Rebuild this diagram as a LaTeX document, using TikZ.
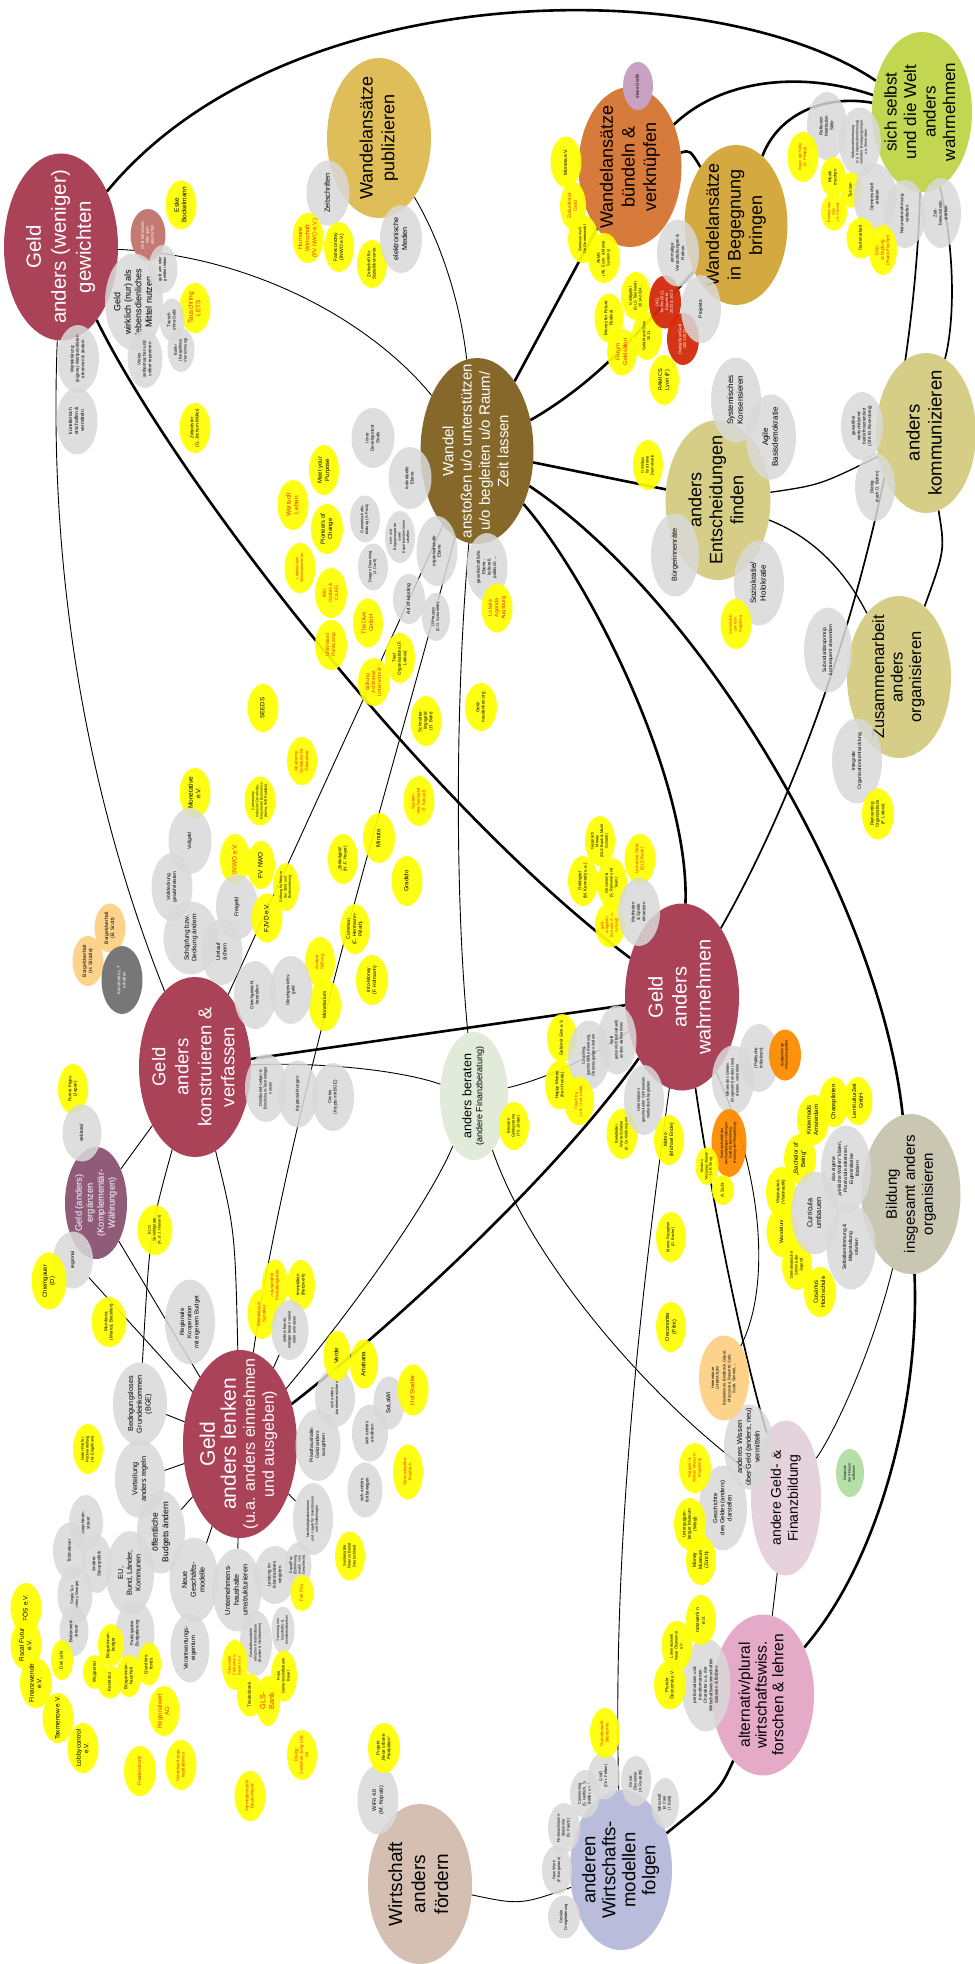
\documentclass[tikz,border=0pt]{standalone}
\usepackage{fontspec}
\setmainfont{Liberation Sans}
\usetikzlibrary{shapes.geometric}
\pgfdeclarelayer{bgzero}\pgfdeclarelayer{background}
\pgfsetlayers{bgzero,background,main}
\definecolor{mar}{HTML}{AA4258}
\definecolor{wan}{HTML}{86692A}
\definecolor{pubc}{HTML}{DFBE5A}
\definecolor{bunc}{HTML}{D67B3C}
\definecolor{begc}{HTML}{D4A940}
\definecolor{sichc}{HTML}{C2D652}
\definecolor{kha}{HTML}{D6CE86}
\definecolor{bilc}{HTML}{C9C7B2}
\definecolor{finc}{HTML}{E6D2DD}
\definecolor{altc}{HTML}{E4AAC8}
\definecolor{wmodc}{HTML}{B9BDDB}
\definecolor{wfoec}{HTML}{D4BFB2}
\definecolor{berc}{HTML}{E2EBDA}
\definecolor{ergc}{HTML}{8F5B79}
\definecolor{redu}{HTML}{C27A73}
\definecolor{graf}{HTML}{C9A1C3}
\definecolor{grc}{HTML}{D9D9D9}
\definecolor{yel}{HTML}{FFFF00}
\definecolor{redt}{HTML}{F2330D}
\definecolor{orc}{HTML}{FF8C00}
\definecolor{lor}{HTML}{FDCF80}
\definecolor{dgr}{HTML}{777777}
\definecolor{redc}{HTML}{D42A0A}
\definecolor{lgr}{HTML}{B4E0A8}
\newcommand\T[1]{\makebox[0pt]{\raisebox{-0.25em}[0pt][0pt]{\begin{tabular}[c]{@{}c@{}}#1\end{tabular}}}}
\newcommand\N[6]{\node[#1,minimum width=#5pt,minimum height=#4pt] (#2) at (#3) {\T{#6}};}
\tikzset{
 F/.style 2 args={font=\fontsize{#1}{#2}\selectfont},
 base/.style={ellipse, rotate=90, inner sep=0pt, outer sep=0pt},
 mn/.style={base, fill=#1},
 gr/.style={base, fill=grc, fill opacity=.85, text opacity=1},
 ye/.style={base, fill=yel, fill opacity=.92, text opacity=1},
 yr/.style={ye, text=redt},
 lo/.style={base, fill=lor, fill opacity=.9, text opacity=1},
 og/.style={base, fill=orc, fill opacity=.95, text opacity=1},
 rd/.style={base, fill=redc, text=white, fill opacity=.95, text opacity=1},
 fa/.style={F={3.6}{4.3}}, fb/.style={F={4}{4.8}}, fc/.style={F={4.5}{5.4}},
 fd/.style={F={5}{6}}, fe/.style={F={5.5}{6.6}}, ff/.style={F={6}{7.2}},
 fg/.style={F={6.5}{7.6}}, fh/.style={F={7.3}{8.7}}, fi/.style={F={8}{9.8}},
 tk/.style={line width=2.6pt}, md/.style={line width=1.7pt},
 tn/.style={line width=0.9pt}, gl/.style={line width=1.3pt, black!60},
}
\begin{document}
\begin{tikzpicture}[x=1pt,y=-1pt]
\useasboundingbox (0,0) rectangle (974,1964);
\begin{pgfonlayer}{bgzero}\fill[white] (0,0) rectangle (974,1964);\end{pgfonlayer}
% ---------- main nodes
\N{mn=mar,text=white,F={20.5}{25}}{gew}{61,247}{114}{187}{Geld\\anders (weniger)\\gewichten}
\N{mn=wan,text=white,F={15}{18.3}}{wandel}{477,451}{113}{186}{Wandel\\anstoßen u/o unterstützen\\u/o begleiten u/o Raum/\\Zeit lassen}
\N{mn=pubc,F={18}{21.7}}{pub}{379,138}{104}{160}{Wandelansätze\\publizieren}
\N{mn=bunc,F={18}{21.7}}{bund}{630,167}{103}{160}{Wandelansätze\\bündeln \&\\verknüpfen}
\N{mn=begc,F={18}{21.7}}{beg}{736,225}{103}{160}{Wandelansätze\\in Begegnung\\bringen}
\N{mn=sichc,F={17}{19.5}}{sich}{922,112}{100}{160}{sich selbst\\und die Welt\\anders\\wahrnehmen}
\N{mn=kha,F={18.5}{22}}{kom}{926,433}{100}{160}{anders\\kommunizieren}
\N{mn=kha,F={18}{21}}{ent}{718,500}{105}{160}{anders\\Entscheidungen\\finden}
\N{mn=kha,F={16.5}{18.5}}{zus}{899,677}{104}{162}{Zusammenarbeit\\anders\\organisieren}
\N{mn=mar,text=white,F={20}{24}}{wahr}{682,997}{114}{187}{Geld\\anders\\wahrnehmen}
\N{mn=mar,text=white,F={18.5}{23}}{kon}{195,1067}{112}{180}{Geld\\anders\\konstruieren \&\\verfassen}
\N{mn=mar,text=white,F={16}{19}}{lenk}{240,1444}{114}{188}{{\fontsize{21}{22}\selectfont Geld}\\{\fontsize{21}{22}\selectfont anders lenken}\\(u.a. anders einnehmen\\und ausgeben)}
\N{mn=berc,F={9}{11}}{ber}{474,1096}{68}{128}{{\fontsize{12.5}{15}\selectfont anders beraten}\\(andere Finanzberatung)}
\N{mn=ergc,text=white,F={9.3}{11}}{erg}{96,1203}{62}{112}{Geld (anders)\\ergänzen\\(Komplementär-\\Währungen)}
\N{mn=bilc,F={15}{18}}{bil}{911,1194}{99}{160}{Bildung\\insgesamt anders\\organisieren}
\N{mn=finc,F={14}{17}}{fin}{786,1498}{70}{155}{andere Geld- \&\\Finanzbildung}
\N{mn=altc,F={15.5}{16.7}}{alt}{763,1695}{102}{161}{alternativ/plural\\wirtschaftswiss.\\forschen \& lehren}
\N{mn=wmodc,F={18.5}{20}}{wmod}{621,1870}{102}{160}{anderen\\Wirtschafts-\\modellen\\folgen}
\N{mn=wfoec,F={19}{23}}{wfoe}{420,1884}{104}{160}{Wirtschaft\\anders\\fördern}
% ---------- top left
\N{mn=redu,text=white,fb}{redu}{148,235}{35}{52}{Geld reduzieren\\oder ganz\\abschaffen}
\N{ye,fg}{eske}{181,205}{31}{49}{Eske\\Bockelmann}
\N{gr,F={9}{10.5}}{wirk}{134,302}{58}{97}{Geld\\wirklich (nur) als\\lebensdienliches\\Mittel nutzen}
\N{gr,fb}{garm}{163,269}{29}{48}{geld arm oder\\geldfrei leben}
\N{yr,fg}{lets}{195,308}{31}{50}{Tauschring\\LETS}
\N{gr,fc}{tausch}{172,320}{25}{43}{Tausch\\ohne Geld}
\N{gr,fb}{barter}{181,350}{27}{44}{Barter\\(bargeldlose\\Verrechnung)}
\N{gr,fc}{viel}{145,359}{35}{58}{Vieles\\selbermachen und\\selber reparieren}
\N{gr,fc}{werte}{78,359}{42}{68}{Werteklärung:\\(eigene) Wertprioritäten\\erkennen \& ändern}
\N{gr,fd}{kuen}{77,421}{41}{67}{künstlerisch\\erschaffen \&\\vermitteln}
\N{ye,fc}{zeitp}{195,428}{31}{50}{Zeitpolster\\(G. Jochum-Müller)}
\N{gr,fh}{zeitschr}{328,193}{43}{65}{Zeitschriften}
\N{yr,ff}{humane}{308,238}{31}{50}{Humane\\Wirtschaft\\(FV NWO e.V.)}
\N{ye,fd}{faire}{339,247}{30}{50}{Faireconomy\\(INWO e.V.)}
\N{ye,fc}{zfs}{372,264}{30}{48}{Zeitschrift für\\Sozialökonomie}
\N{gr,fh}{elek}{401,239}{42}{68}{elektronische\\Medien}
% ---------- top middle
\N{mn=graf,fc}{grafik}{638,86}{30}{48}{diese Grafik}
\N{ye,fd}{moneta}{566,162}{31}{51}{Moneta e.V.}
\N{yr,fd}{zrat}{573,206}{26}{48}{Zukunftsrat\\Geld}
\N{ye,fb}{gen}{583,239}{30}{48}{Genossensch.\\für Gemeinwohl}
\N{ye,fb}{aems}{604,258}{32}{50}{AEMS\\(Alt. Econ. \& Monet.\\Systems)}
\N{ye,fc}{mff}{609,318}{29}{49}{Money for Future\\Festival}
\N{ye,fb}{gipfel}{636,296}{30}{48}{Geldgipfel\\(GLS Treuhand)\\2014-2024...}
\N{yr,ff}{salon}{622,352}{30}{47}{Forum\\Geldsalon}
\N{ye,fb}{gms}{647,336}{30}{48}{Geld.Macht.Sinn\\2011}
\N{rd,fb}{dfg}{665,302}{32}{53}{DFG:\\Treffen 2021,\\Konvente\\2022 \& 2023}
\N{rd,fb}{drg}{683,339}{32}{52}{DialogRaumGeld\\2021-2023}
\N{ye,fe}{ramics}{664,380}{30}{50}{RAMICS\\Lyon (F)}
\N{ye,fb}{omni}{648,465}{30}{50}{Omnibus\\für direkte\\Demokratie}
\N{gr,fc}{einm}{678,253}{42}{67}{einmalige\\Veranstaltungen \&\\Reihen}
\N{gr,fd}{proj}{701,309}{40}{68}{Projekte}
\N{gr,fc}{idg}{373,438}{43}{60}{Inner\\Development\\Goals}
\N{gr,fc}{indiv}{410,478}{43}{62}{individuelle\\Ebene}
% ---------- top right
\N{gr,fc}{refl}{827,126}{40}{68}{Reflexion\\Meditation\\Stille}
\N{gr,fa}{selbstw}{860,142}{42}{69}{Selbstwahrnehmung\\(v.a. Körperwahrnehmung)\\vertiefen: Bewegungsimpro.\\u.a. Sinne üben}
\N{yr,fb}{raum}{803,157}{31}{50}{Raum der Stille\\(A. Philipp)}
\N{ye,fc}{musik}{833,177}{25}{40}{Musik\\machen}
\N{ye,fc}{tanz}{851,190}{21}{36}{Tanzen}
\N{yr,fa}{beweg}{834,212}{26}{37}{Bewegungs-\\tage\\(A. Hähnel)}
\N{gr,fc}{gemein}{875,197}{43}{67}{Gemeinschaft\\erleben}
\N{ye,fc}{garten}{861,238}{29}{41}{Gartenarbeit}
\N{gr,fc}{natur}{905,214}{42}{68}{Naturwahrnehmung\\vertiefen}
\N{gr,fc}{zeitb}{941,213}{40}{70}{Zeit-\\bewusstsein\\stärken}
\N{yr,fc}{erd}{883,250}{28}{50}{ERD-\\schöpfung\\(Frank Fischer)}
% ---------- right middle
\N{gr,fi}{sysk}{736,400}{50}{85}{Systemisches\\Konsensieren}
\N{gr,fi}{agile}{771,437}{50}{85}{Agile\\Basisdemokratie}
\N{gr,fc}{gfk}{862,426}{42}{68}{gewaltfrei\\wertschätzend\\bedürfnisorientiert\\(GfK M. Rosenberg)}
\N{gr,fc}{dialog}{875,487}{40}{68}{Dialog\\(nach D. Bohm)}
\N{gr,fh}{buerg}{675,555}{48}{83}{Bürgerinnenräte}
\N{gr,fi}{sozio}{759,583}{50}{85}{Soziokratie/\\Holokratie}
\N{yr,fb}{szaug}{736,624}{31}{50}{Soziokratie-\\zentrum\\Augsburg}
\N{gr,fd}{subs}{828,650}{48}{85}{Subsidiaritätsprinzip\\konsequent anwenden}
\N{gr,fd}{integ}{857,761}{50}{85}{Integrale\\Organisationsentwicklung}
\N{ye,fc}{reinv}{878,814}{32}{51}{Reinventing\\Organizations\\(F. Laloux)}
% ---------- middle
\N{yr,fg}{wertv}{293,505}{31}{50}{Wertvoll\\Leben}
\N{ye,ff}{meet}{324,470}{30}{50}{Meet your\\Purpose}
\N{ye,ff}{pion}{327,529}{32}{50}{Pioneers of\\Change}
\N{yr,fb}{lebr}{300,568}{31}{50}{Lebensraum\\Schwabencenter}
\N{yr,fd}{imu}{331,593}{32}{50}{IMU\\GmbH \&\\Co.KG}
\N{yr,fd}{unitv}{331,645}{32}{50}{UnitVision/\\Thinkcamp}
\N{gr,fb}{peck}{365,519}{30}{47}{Gemeinschafts-\\bildung (S. Peck)}
\N{gr,fa}{lern}{400,537}{30}{52}{Lern- und\\Begegnungsorte\\sowie\\Experimentierräume\\schaffen}
\N{gr,fb}{dragon}{373,567}{30}{47}{Dragon Dreaming\\(J. Croft)}
\N{gr,fc}{orgeb}{437,551}{41}{70}{organisationale\\Ebene}
\N{gr,fd}{aoh}{409,599}{32}{50}{Art of Hosting}
\N{gr,fb}{uproz}{436,617}{28}{48}{U-Prozess\\(C.O. Scharmer)}
\N{gr,fc}{gesell}{487,567}{41}{68}{gesellschaftliche\\Ebene -\\kulturell,\\politisch, ...}
\N{yr,fe}{lokal}{497,608}{31}{49}{Lokale\\Agenda\\Augsburg}
\N{ye,fc}{teal}{400,658}{30}{50}{Teal\\Organisations (F.\\Laloux)}
\N{yr,ff}{dive}{368,623}{30}{49}{TheDive\\GmbH}
\N{yr,fd}{achts}{374,682}{32}{48}{Stiftung\\Achtsame\\Unternehmer}
\N{ye,fc}{neud}{481,707}{32}{48}{Geld-\\neudenken.org}
\N{ye,fc}{schmett}{426,721}{31}{50}{Schmetter-\\lingsgeld\\(D. Bahr)}
\N{yr,fc}{syswe}{419,801}{31}{50}{System-\\wechselspiel\\(T. Kanyal)}
\N{ye,ff}{minuto}{379,838}{32}{50}{Minuto}
\N{ye,fc}{zeitt}{343,859}{30}{50}{„Zeitteilgeld“\\(H.-F. Hoyer)}
\N{ye,ff}{gradido}{407,881}{31}{50}{Gradido}
\N{ye,fd}{common}{355,929}{30}{50}{Common\\(C. Herrmann-\\Pillath)}
\N{ye,fd}{infom}{372,980}{32}{50}{Info-Money\\(F. Hofmann)}
\N{ye,fd}{monetar}{325,1005}{32}{52}{Monetarium}
\N{yr,fc}{andst}{320,962}{30}{50}{Andere\\Stiftung}
\N{ye,ff}{seeds}{263,708}{31}{48}{SEEDS}
\N{yr,fc}{akad}{302,761}{30}{48}{Akademie\\Solidarische\\Ökonomie}
\N{ye,fg}{monetat}{195,793}{31}{50}{Monetative\\e.V.}
\N{ye,fa}{cic}{260,801}{31}{49}{Community\\Inclusion Currencies,\\Grassroots Economics\\(Kenia, Will Ruddick)}
\N{gr,fd}{vollg}{190,841}{43}{66}{Vollgeld}
\N{gr,fd}{volld}{172,887}{41}{68}{Volldeckung\\gewährleisten}
\N{yr,fg}{inwo}{235,859}{30}{50}{INWO e.V.}
\N{ye,fg}{fvnwo}{261,865}{28}{48}{FV NWO}
\N{ye,fa}{stift}{286,887}{26}{48}{Stiftung für Reform\\der Geld- und\\Bodenordnung}
\N{gr,fe}{freig}{237,907}{42}{65}{Freigeld}
\N{ye,fg}{fjvd}{267,918}{31}{49}{FJVD e.V.}
\N{gr,fg}{schoepf}{191,938}{55}{73}{Schöpfung bzw.\\Deckung ändern}
\N{gr,fe}{umlauf}{222,952}{41}{66}{Umlauf\\sichern}
\N{lo,fd}{bargs}{88,961}{31}{50}{Bargeldverhalt\\(H. Stützle)}
\N{lo,fd}{bargsc}{110,928}{31}{49}{Bargeldverhalt\\(B. Scott)}
\N{mn=dgr,text=white,fc}{konstr}{122,980}{41}{68}{Konstrukte z.T.\\erhalten}
\N{gr,fc}{gleich}{255,995}{42}{68}{Gleichgewicht\\herstellen}
\N{gr,fc}{gleichg}{291,990}{42}{68}{Gleichgewichts-\\geld}
\N{gr,fb}{dlt}{266,1088}{42}{68}{Distributed-Ledger \&\\Blockchain-Technologie\\nutzen}
\N{gr,fc}{krypto}{298,1094}{40}{67}{Kryptowährungen}
\N{gr,fc}{circles}{333,1097}{42}{68}{Circles\\(Krypto mit BGE)}
% ---------- left middle
\N{ye,fc}{fureai}{73,1089}{30}{50}{Fureai Kippu\\(Japan)}
\N{gr,fd}{sekt}{82,1133}{39}{57}{sektoral}
\N{gr,fd}{regio}{73,1260}{40}{57}{regional}
\N{ye,ff}{chiem}{49,1281}{35}{57}{Chiemgauer\\(D)}
\N{ye,fc}{mumb}{109,1322}{35}{50}{Mumbuca\\(Maricá, Brasilien)}
\N{ye,fb}{eco}{155,1230}{35}{50}{ECO\\Sovereignate\\(A. \& J. Hansen)}
\N{gr,ff}{regk}{190,1322}{50}{85}{Regionale\\Kooperation\\mit eigenem Budget}
\N{yr,fc}{haus}{275,1285}{26}{51}{Hausprojekt\\Paradiesgarten}
\N{yr,fc}{miets}{262,1314}{29}{50}{Mietshäuser\\Syndikat}
\N{ye,fc}{immo}{301,1285}{28}{50}{Immobilien\\(Netzwerk)}
\N{gr,fb}{bauen}{290,1330}{37}{60}{anders bauen,\\weniger bauen sowie\\mehr umnutzen}
\N{gr,fh}{bge}{140,1404}{54}{83}{Bedingungsloses\\Grundeinkommen\\(BGE)}
\N{ye,fb}{guter}{88,1449}{30}{50}{Guter Rat für\\Rückverteilung\\(M. Engelhorn)}
\N{gr,fh}{vert}{140,1479}{50}{78}{Verteilung\\anders regeln}
\N{gr,F={8.5}{10.5}}{oeff}{161,1532}{48}{83}{öffentliche\\Budgets ändern}
\N{gr,fc}{masch}{86,1523}{34}{56}{Maschinen-\\steuer}
\N{gr,fc}{tobin}{70,1551}{34}{57}{Tobinsteuer}
\N{gr,fc}{andsp}{97,1564}{30}{58}{Andere\\Steuerpolitik}
\N{gr,fh}{eu}{130,1573}{48}{84}{EU,\\Bund, Länder,\\Kommunen}
\N{gr,fb}{single}{75,1595}{35}{57}{Single Tax\\(Henry George)}
\N{gr,fc}{boden}{74,1631}{29}{50}{Bodenwert-\\steuer}
\N{gr,fc}{partiz}{135,1633}{39}{65}{Partizipative\\Budgetierung}
\N{ye,fc}{loehr}{62,1660}{22}{40}{Dirk Löhr}
\N{ye,fc}{bbud}{111,1645}{26}{42}{Bürgerinnen-\\budget}
\N{ye,fc}{wupp}{95,1672}{24}{34}{Wuppertal}
\N{ye,fc}{konst}{110,1682}{25}{33}{Konstanz}
\N{ye,fc}{bhaus}{129,1676}{25}{42}{Bürgerinnen-\\haushalt}
\N{ye,fc}{quart}{149,1664}{24}{43}{Quartiers-\\fonds}
\N{yr,ff}{regwert}{164,1711}{31}{50}{Regionalwert\\AG}
\N{yr,fd}{fried}{140,1771}{32}{50}{Friedensfond}
\N{yr,fc}{verantk}{181,1765}{31}{50}{Verantwortungs-\\kapitalismus}
\N{ye,fg}{foes}{26,1608}{31}{50}{FÖS e.V.}
\N{ye,fg}{fiscal}{26,1645}{31}{50}{Fiscal Futur\\e.V.}
\N{ye,fg}{finw}{36,1683}{32}{50}{Finanzwende\\e.V.}
\N{ye,fg}{taxm}{58,1718}{31}{50}{Taxmenow e.V.}
\N{ye,fg}{lobby}{83,1748}{31}{50}{Lobbycontrol\\e.V.}
\N{gr,fh}{neue}{194,1580}{49}{85}{Neue\\Geschäfts-\\modelle}
\N{gr,ff}{veig}{190,1648}{39}{69}{Verantwortungs-\\eigentum}
\N{gr,fh}{unth}{237,1590}{49}{83}{Unternehmens-\\haushalte\\umstrukturieren}
\N{gr,fc}{leist}{275,1575}{41}{58}{Leistung im\\Inland anders\\vergüten}
\N{gr,fa}{equal}{298,1565}{27}{45}{Equal Pay\\(Entlohnung\\unabh. vom\\Geschlecht)}
\N{yr,fc}{fair}{302,1593}{23}{36}{Fair Pay}
\N{gr,fa}{gmod}{256,1643}{32}{65}{Geschäftsmodelle\\ethischer Kreditinstitute\\(Banken \& Nichtbanken)}
\N{gr,fa}{trenn}{283,1630}{23}{47}{Trennung von\\Geschäfts- \&\\Investmentbanken}
\N{yr,fb}{oiko}{235,1665}{26}{50}{Oikocredit\\Förderkreis\\Bayern e.V.}
\N{ye,fc}{triod}{250,1695}{26}{43}{Triodosbank}
\N{yr,fh}{gls}{268,1701}{24}{50}{GLS-\\Bank}
\N{ye,fb}{fgb}{284,1676}{26}{51}{Freie\\Gemeinschaftsbank\\Basel}
\N{yr,fc}{djua}{302,1755}{30}{50}{Dialog\\zwischen Jung und\\Alt}
\N{yr,fc}{vpool}{250,1796}{31}{50}{Vermögenspool\\Deutschland}
\N{gr,fa}{nachh}{313,1519}{40}{72}{Nachhaltigkeitskriterien\\und -regeln für Investitionen\\und Geldanlagen}
\N{ye,fb}{sfb}{350,1556}{30}{49}{Sustainable\\Finance Beirat\\Deutschland}
\N{gr,fd}{privat}{318,1445}{45}{72}{Privathaushalte:\\Geld anders\\ausgeben}
\N{gr,fb}{kranken}{335,1398}{40}{58}{sich anders\\„krankenversichern“}
\N{gr,fc}{ernaehr}{370,1433}{36}{57}{sich anders\\ernähren}
\N{gr,fc}{fortb}{365,1490}{35}{55}{sich anders\\fortbewegen}
\N{ye,ff}{verde}{337,1356}{27}{50}{Verde}
\N{ye,ff}{artab}{364,1364}{28}{49}{Artabana}
\N{gr,ff}{solawi}{389,1403}{31}{53}{SoLaWi}
\N{yr,ff}{hofst}{413,1390}{31}{51}{Hof Stadler}
\N{yr,fc}{genussk}{408,1472}{30}{55}{Genusskaffee\\Friedrich}
\N{gr,fe}{wifoe}{378,1800}{41}{69}{WiFö 4.0\\(M. Kopatz)}
\N{ye,fc}{urb}{384,1748}{32}{50}{Projekt\\„Neue urbane\\Produktion“}
% ---------- bottom right
\N{gr,fb}{sozdr}{564,1917}{32}{43}{Soziale\\Dreigliederung}
\N{gr,fb}{nwork}{557,1870}{30}{49}{New Work\\(F. Bergmann)}
\N{gr,fb}{postw}{564,1828}{32}{50}{Postwachstums-\\ökonomie\\(N. Paech)}
\N{gr,fb}{commoning}{585,1794}{30}{48}{Commoning\\(S. Helfrich, S.\\Bollier, u.a.)}
\N{gr,fb}{gwoe}{604,1776}{32}{47}{GWÖ\\(Chr. Felber)}
\N{yr,fc}{gwoek}{605,1733}{30}{50}{Gemeinwohl-\\ökonomie}
\N{gr,fb}{donut}{636,1781}{30}{50}{Donut-\\Ökonomie\\(K. Raworth)}
\N{gr,fb}{care}{665,1803}{28}{50}{Wirtschaft\\ist Care\\(I. Bold)}
\N{gr,fc}{perf}{706,1685}{49}{93}{performativen und\\transformativen\\Charakter u.a. der\\Wirtschaftswissenschaften\\zulassen \& fördern}
\N{ye,fc}{plural}{670,1685}{32}{49}{Plurale\\Ökonomik e.V.}
\N{ye,fb}{lernnetz}{677,1646}{31}{50}{Lernnetzwerk\\Neue Ökonomie\\e.V.}
\N{ye,fd}{netzw}{701,1620}{30}{50}{netzwerk n\\e.V.}
\N{gr,ff}{gesch}{723,1508}{48}{85}{Geschichte\\des Geldes (anders)\\darstellen}
\N{yr,fb}{fugger}{695,1468}{32}{50}{Fuggerei \&\\Welser Museum\\(Augsburg)}
\N{ye,fc}{unterg}{690,1524}{32}{52}{Unterguggen-\\berger Museum\\(Wörgl)}
\N{ye,fd}{mmus}{701,1560}{30}{50}{Money\\Museum\\(Zürich)}
\N{mn=lgr,fa}{green}{850,1473}{28}{48}{Netzwerk\\der Akteure\\aufbauen}
\N{gr,fh}{wissen}{749,1447}{50}{85}{anderes Wissen\\über Geld (anders, neu)\\vermitteln}
\N{lo,fb}{lit}{724,1378}{50}{85}{Heterodoxe\\LITERATUR!\\[2pt]Bockelmann, Bindbeck, Göpel,\\Mazzucato, Raworth, Sahr,\\Scott, Simmel, ...}
\N{ye,fe}{oecf}{671,1327}{30}{50}{Oeconomia\\(Film)}
\N{ye,fb}{momor}{671,1237}{30}{50}{Momo-Rezeption\\(D. Bache)}
\N{ye,fd}{momo}{669,1140}{30}{50}{Momo\\(Michael Ende)}
\N{gr,fb}{wesen}{733,1080}{42}{69}{Wesen des Geldes\\(insgesamt) anders (neu)\\deuten, verstehen}
\N{gr,fc}{polit}{759,1058}{40}{68}{(Politische\\Initiativen)}
\N{og,fa}{gpol}{785,1055}{32}{51}{(Geldpolitik als\\Infrastrukturpolitik)}
\N{og,fa}{gefaess}{729,1143}{35}{68}{Geld als Gefäß der\\wechselseitigen Haltungen:\\Geld als Beziehung\\(Haltung der Perspektive)}
\N{ye,fa}{mmt}{707,1166}{23}{38}{Modern\\Monetary Theory\\(L.R. Wray)}
\N{ye,fc}{suhr}{723,1190}{22}{30}{A. Suhr}
\N{ye,fc}{vis}{781,1192}{30}{50}{Visionauten\\(Visionautik)}
\N{ye,fd}{wuni}{782,1232}{31}{50}{Wandeluni}
\N{ye,fb}{dsj}{797,1265}{30}{50}{Demokratische\\Stimme der\\Jugend}
\N{ye,ff}{cus}{820,1292}{32}{50}{Cusanus\\Hochschule}
\N{ye,ff}{bob}{800,1159}{32}{50}{„Bachelor of\\Being“}
\N{ye,ff}{know}{813,1120}{32}{50}{Knowmads\\Amsterdam}
\N{ye,ff}{chaos}{834,1102}{30}{50}{Chaospiloten}
\N{ye,fe}{lkz}{858,1101}{29}{48}{LernKulturZeit\\GmbH}
\N{gr,fh}{curr}{815,1213}{48}{83}{Curricula\\umbauen}
\N{gr,fd}{wollen}{846,1169}{50}{87}{das eigene\\„wirkliche Wollen“ klären,\\Potenziale erkennen,\\Eigeninitiative\\fördern}
\N{gr,fd}{selbstb}{851,1247}{49}{85}{Selbstbestimmung \&\\Mitgestaltung\\stärken}
% ---------- around beraten / wahrnehmen
\N{gr,fb}{geldpers}{617,1040}{39}{69}{Geld\\persönlich (individuell)\\anders wahrnehmen}
\N{ye,fc}{gms2}{562,1038}{30}{48}{Geld mit Sinn e.V.}
\N{ye,fc}{happy}{560,1085}{30}{49}{Happy Money\\(Ken Honda)}
\N{gr,fb}{coachg}{589,1055}{42}{69}{Coaching,\\ganzheitliche Beratung,\\Überzeugungen ändern}
\N{yr,fb}{coachy}{579,1101}{30}{48}{Coaching\\(z.B. U.v.d.Linde)}
\N{ye,fb}{biel}{622,1134}{31}{50}{Bielefelder\\Werte-Scheine\\(K. Gr.-Wöhrmann)}
\N{gr,fb}{unterst}{644,1100}{40}{70}{Unterstützen\\gescheiterter Sichtweisen\\methodisch begleiten}
\N{ye,fb}{besser}{514,1126}{30}{48}{Bessere\\Geldsysteme\\(Th. Jörder)}
\N{ye,fc}{geldspiel}{583,881}{30}{50}{Geldspiel\\(M. Kennedy u.a.)}
\N{ye,fb}{gesprm}{600,841}{30}{50}{Gespräch\\Money\\(GLS Bank \& Michl\\Schoett)}
\N{ye,fb}{oecon}{612,883}{30}{50}{Oeconomia\\(S. Renswel und\\Team)}
\N{yr,fc}{lernr}{640,859}{31}{50}{Lernreise Geld\\(GLS Bank)}
\N{yr,fb}{gmitg}{610,925}{30}{45}{geld-\\mitgefühl\\(H.Knell, A.-L.\\Schmid)}
\N{gr,fc}{meth}{639,912}{42}{68}{Methoden\\\& Spiele\\einsetzen}
% ---------- connectors
\begin{pgfonlayer}{background}
\draw[tk] (gew) .. controls (290,-30) and (720,-25) .. (sich);
\draw[tk] (gew) .. controls (170,470) and (420,800) .. (wahr);
\draw[tk] (wandel) -- (bund);
\draw[tk] (wandel) .. controls (600,380) and (640,330) .. (beg);
\draw[tk] (wandel) -- (ent);
\draw[tk] (wandel) .. controls (700,600) and (880,900) .. (bil);
\draw[tk] (wandel) .. controls (590,580) and (690,780) .. (wahr);
\draw[tk] (bund) .. controls (720,80) and (800,70) .. (sich);
\draw[tk] (bund) .. controls (690,150) .. (beg);
\draw[tk] (beg) .. controls (780,110) and (830,95) .. (sich);
\draw[md] (sich) .. controls (915,400) and (850,700) .. (wahr);
\draw[md] (sich) .. controls (955,250) and (955,320) .. (kom);
\draw[md] (kom) .. controls (945,550) .. (zus);
\draw[tn,line width=1.3pt] (ent) .. controls (820,540) and (850,580) .. (zus);
\draw[tn,line width=1.3pt] (ent) .. controls (820,485) .. (kom);
\draw[gl] (kom) -- (dialog);
\draw[gl] (beg) -- (dfg);
\draw[tn] (gew) .. controls (45,650) and (120,880) .. (kon);
\draw[tn] (gew) .. controls (250,255) and (370,320) .. (wandel);
\draw[tn] (wandel) .. controls (460,300) and (440,240) .. (pub);
\draw[tn] (wandel) -- (kon);
\draw[tn] (wandel) .. controls (400,750) and (290,1100) .. (lenk);
\draw[tn] (wandel) .. controls (455,700) and (455,900) .. (ber);
\draw[tk] (kon) -- (wahr);
\draw[tn] (kon) .. controls (320,1062) and (400,1070) .. (ber);
\draw[tn] (ber) .. controls (560,1075) and (600,1050) .. (wahr);
\draw[tk] (lenk) .. controls (400,1320) and (560,1170) .. (wahr);
\draw[tn] (lenk) .. controls (360,1300) and (430,1200) .. (ber);
\draw[tn] (ber) .. controls (530,1260) and (650,1400) .. (fin);
\draw[tn] (wahr) .. controls (640,1300) and (612,1550) .. (wmod);
\draw[md] (wahr) .. controls (715,1220) and (745,1360) .. (fin);
\draw[tn] (wahr) .. controls (765,1180) and (770,1290) .. (lit);
\draw[tn] (bil) .. controls (870,1360) and (830,1440) .. (fin);
\draw[tk] (bil) .. controls (920,1400) and (880,1560) .. (alt);
\draw[tk] (alt) .. controls (720,1790) .. (wmod);
\draw[tn] (fin) -- (alt);
\draw[tn] (wfoe) .. controls (520,1905) .. (wmod);
\draw[tn] (kon) -- (erg);
\draw[tn] (kon) .. controls (150,1230) .. (bge);
\draw[tn] (kon) .. controls (235,1230) .. (lenk);
\draw[tn] (erg) -- (lenk);
\draw[tn] (regio) -- (lenk);
\draw[tn] (lenk) -- (bge);
\draw[tn] (lenk) -- (vert);
\draw[tn] (lenk) -- (oeff);
\draw[tn] (lenk) -- (neue);
\draw[tn] (lenk) -- (unth);
\draw[tn] (lenk) -- (nachh);
\draw[tn] (lenk) -- (bauen);
\draw[tn] (lenk) -- (privat);
\end{pgfonlayer}
\end{tikzpicture}
\end{document}
